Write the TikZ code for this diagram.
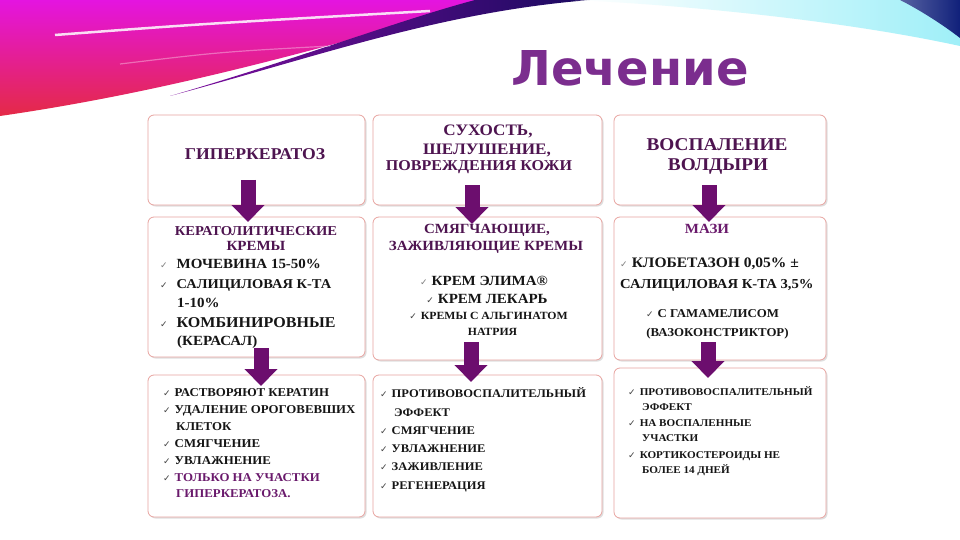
\documentclass[tikz,border=0pt]{standalone}
\usepackage{fontspec}
\usepackage{graphicx}
\setmainfont{Liberation Serif}[FakeStretch=1.07]
\newfontfamily\djv{DejaVu Sans}
\newfontfamily\titlefont{DejaVu Sans}
\usetikzlibrary{arrows.meta,shadows}
\definecolor{boxline}{HTML}{E8A4A0}
\definecolor{arrowp}{HTML}{6C0E6E}
\definecolor{hdrc}{HTML}{4E1450}
\definecolor{bodyc}{HTML}{151515}
\definecolor{purpc}{HTML}{6A1A6C}
\definecolor{titlec}{HTML}{7B2D8E}
\definecolor{magA}{HTML}{E414E0}
\definecolor{pinkA}{HTML}{F03A9E}
\definecolor{redA}{HTML}{E42A46}
\definecolor{navyA}{HTML}{1A0A60}
\definecolor{cyanA}{HTML}{9FEFF8}
\definecolor{blueA}{HTML}{10207A}
\newcommand{\fsz}[1]{\fontsize{#1pt}{#1pt}\selectfont}
\newcommand{\ck}{{\djv\fsz{9}\color{bodyc!80}✓}\hspace{4pt}}
\newcommand{\ckg}{{\djv\fsz{9}\color{gray}✓}\hspace{4pt}}
\tikzset{
  box/.style={draw=boxline, line width=0.8pt, rounded corners=6pt, fill=white,
    drop shadow={shadow xshift=1.5pt, shadow yshift=-1.5pt, opacity=0.25}, inner sep=0pt},
  hdr/.style={font=\bfseries\fsz{14}, text=hdrc, inner sep=0pt, anchor=base},
  bl/.style={font=\bfseries\fsz{12}, text=bodyc, inner sep=0pt, anchor=base west},
  bc/.style={font=\bfseries\fsz{12}, text=bodyc, inner sep=0pt, anchor=base},
  bigarrow/.style={draw=arrowp, line width=15pt, -{Triangle[width=32pt,length=17pt]}}
}
\begin{document}
\begin{tikzpicture}[x=1pt,y=-1pt]
\useasboundingbox (0,0) rectangle (960,540);
\fill[white] (0,0) rectangle (960,540);
% decoration top-left
\shade[top color=magA, middle color=pinkA, bottom color=redA]
  (0,0) -- (495,0) .. controls (330,45) and (180,90) .. (0,116) -- cycle;
\shade[left color=magA!50!navyA, right color=navyA]
  (170,96) .. controls (320,56) and (440,12) .. (590,0) -- (475,0) .. controls (400,20) and (300,58) .. (170,96) -- cycle;
\draw[white, line width=2.5pt, opacity=0.85] (55,35) .. controls (200,24) .. (430,11);
\draw[white, line width=1.2pt, opacity=0.35] (120,64) .. controls (220,52) .. (330,46);
% decoration top-right
\shade[left color=white, right color=cyanA]
  (575,0) -- (960,0) -- (960,46) .. controls (850,22) and (700,6) .. (575,0) -- cycle;
\shade[left color=blueA!70, right color=blueA]
  (900,0) -- (960,0) -- (960,38) .. controls (942,24) and (918,9) .. (900,0) -- cycle;
% title
\node[font=\titlefont\bfseries\fsz{48}, text=titlec, anchor=base, inner sep=0pt] (title) at (630,86) {Лечение};
% boxes
\node[box, minimum width=217pt, minimum height=90pt] (b11) at (256.5,160) {};
\node[box, minimum width=229pt, minimum height=90pt] (b12) at (487.5,160) {};
\node[box, minimum width=212pt, minimum height=90pt] (b13) at (720,160) {};
\node[box, minimum width=217pt, minimum height=140pt] (b21) at (256.5,287) {};
\node[box, minimum width=229pt, minimum height=143pt] (b22) at (487.5,288.5) {};
\node[box, minimum width=212pt, minimum height=143pt] (b23) at (720,288.5) {};
\node[box, minimum width=217pt, minimum height=142pt] (b31) at (256.5,446) {};
\node[box, minimum width=229pt, minimum height=142pt] (b32) at (487.5,446) {};
\node[box, minimum width=212pt, minimum height=150pt] (b33) at (720,443) {};
% row 1 texts
\node[hdr, font=\bfseries\fsz{16.5}] (t11) at (255,160) {ГИПЕРКЕРАТОЗ};
\node[hdr, font=\bfseries\fsz{16}] (t12a) at (488,135.5) {СУХОСТЬ,};
\node[hdr, font=\bfseries\fsz{16}] (t12b) at (487,154.5) {ШЕЛУШЕНИЕ,};
\node[hdr, font=\bfseries\fsz{15}] (t12c) at (479,170.5) {ПОВРЕЖДЕНИЯ КОЖИ};
\node[hdr, font=\bfseries\fsz{18}] (t13a) at (717,151) {ВОСПАЛЕНИЕ};
\node[hdr, font=\bfseries\fsz{18}] (t13b) at (718,171) {ВОЛДЫРИ};
% row 2 box 1
\node[hdr, font=\bfseries\fsz{13.6}] (t21a) at (256,235) {КЕРАТОЛИТИЧЕСКИЕ};
\node[hdr] (t21b) at (256,250) {КРЕМЫ};
\node[bl, font=\bfseries\fsz{14}] (t21c) at (160,268) {\ckg\hspace{5pt}МОЧЕВИНА 15-50\%};
\node[bl, font=\bfseries\fsz{13.5}] (t21d) at (160,288) {\ck\hspace{5pt}САЛИЦИЛОВАЯ К-ТА};
\node[bl, font=\bfseries\fsz{14}] (t21e) at (177,307) {1-10\%};
\node[bl, font=\bfseries\fsz{15}] (t21f) at (160,327) {\ck\hspace{5pt}КОМБИНИРОВНЫЕ};
\node[bl, font=\bfseries\fsz{14}] (t21g) at (177,345) {(КЕРАСАЛ)};
% row 2 box 2
\node[hdr] (t22a) at (487,233) {СМЯГЧАЮЩИЕ,};
\node[hdr] (t22b) at (486,250) {ЗАЖИВЛЯЮЩИЕ КРЕМЫ};
\node[bc, font=\bfseries\fsz{14}] (t22c) at (484,285) {\ckg КРЕМ ЭЛИМА®};
\node[bc, font=\bfseries\fsz{14}] (t22d) at (487,303) {\ck КРЕМ ЛЕКАРЬ};
\node[bc, font=\bfseries\fsz{11}] (t22e) at (488.5,319) {\ck КРЕМЫ С АЛЬГИНАТОМ};
\node[bc, font=\bfseries\fsz{11}] (t22f) at (492.5,335) {НАТРИЯ};
% row 2 box 3
\node[hdr, text=purpc] (t23a) at (707,233) {МАЗИ};
\node[bl, font=\bfseries\fsz{14.5}] (t23b) at (620,267) {\ckg КЛОБЕТАЗОН 0,05\% ±};
\node[bl, font=\bfseries\fsz{13.7}] (t23c) at (620,288) {САЛИЦИЛОВАЯ К-ТА 3,5\%};
\node[bc] (t23d) at (712.5,317) {\ck С ГАМАМЕЛИСОМ};
\node[bc] (t23e) at (717.5,336) {(ВАЗОКОНСТРИКТОР)};
% row 3 box 1
\node[bl] (t31a) at (163,396.5) {\ck РАСТВОРЯЮТ КЕРАТИН};
\node[bl] (t31b) at (163,413.5) {\ck УДАЛЕНИЕ ОРОГОВЕВШИХ};
\node[bl] (t31c) at (176,430.5) {КЛЕТОК};
\node[bl] (t31d) at (163,447.5) {\ck СМЯГЧЕНИЕ};
\node[bl] (t31e) at (163,464.5) {\ck УВЛАЖНЕНИЕ};
\node[bl, text=purpc] (t31f) at (163,481.5) {\ck ТОЛЬКО НА УЧАСТКИ};
\node[bl, text=purpc] (t31g) at (176,497.5) {ГИПЕРКЕРАТОЗА.};
% row 3 box 2
\node[bl, font=\bfseries\fsz{11.7}] (t32a) at (380,397.5) {\ck ПРОТИВОВОСПАЛИТЕЛЬНЫЙ};
\node[bl, font=\bfseries\fsz{11.7}] (t32b) at (394,416.5) {ЭФФЕКТ};
\node[bl, font=\bfseries\fsz{11.7}] (t32c) at (380,434.5) {\ck СМЯГЧЕНИЕ};
\node[bl, font=\bfseries\fsz{11.7}] (t32d) at (380,452.5) {\ck УВЛАЖНЕНИЕ};
\node[bl, font=\bfseries\fsz{11.7}] (t32e) at (380,470.5) {\ck ЗАЖИВЛЕНИЕ};
\node[bl, font=\bfseries\fsz{11.7}] (t32f) at (380,489.5) {\ck РЕГЕНЕРАЦИЯ};
% row 3 box 3
\node[bl, font=\bfseries\fsz{10.4}] (t33a) at (628,395) {\ck ПРОТИВОВОСПАЛИТЕЛЬНЫЙ};
\node[bl, font=\bfseries\fsz{10.4}] (t33b) at (642,410) {ЭФФЕКТ};
\node[bl, font=\bfseries\fsz{10.4}] (t33c) at (628,426) {\ck НА ВОСПАЛЕННЫЕ};
\node[bl, font=\bfseries\fsz{10.4}] (t33d) at (642,441) {УЧАСТКИ};
\node[bl, font=\bfseries\fsz{10.4}] (t33e) at (628,458) {\ck КОРТИКОСТЕРОИДЫ НЕ};
\node[bl, font=\bfseries\fsz{10.4}] (t33f) at (642,473) {БОЛЕЕ 14 ДНЕЙ};
% arrows
\coordinate (a11s) at (248,180); \coordinate (a11e) at (248,222);
\coordinate (a21s) at (261,348); \coordinate (a21e) at (261,386);
\coordinate (a12s) at (472,185); \coordinate (a12e) at (472,224);
\coordinate (a22s) at (471,342); \coordinate (a22e) at (471,382);
\coordinate (a13s) at (709,185); \coordinate (a13e) at (709,222);
\coordinate (a23s) at (708,342); \coordinate (a23e) at (708,378);
\draw[bigarrow] (a11s) -- (a11e);
\draw[bigarrow] (a21s) -- (a21e);
\draw[bigarrow] (a12s) -- (a12e);
\draw[bigarrow] (a22s) -- (a22e);
\draw[bigarrow] (a13s) -- (a13e);
\draw[bigarrow] (a23s) -- (a23e);
\end{tikzpicture}
\end{document}
